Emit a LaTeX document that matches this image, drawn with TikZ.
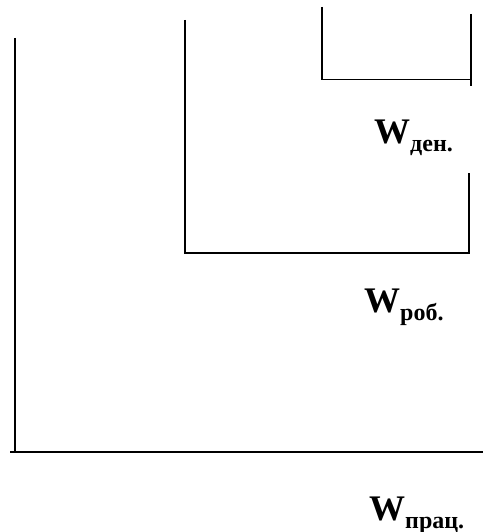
\documentclass[tikz,border=0pt]{standalone}
\usepackage{fontspec}
\setmainfont{Liberation Serif}
\begin{document}
\begin{tikzpicture}[x=1pt,y=-1pt,
  edge/.style={line width=1.7pt,line cap=butt,line join=miter},
  wlabel/.style={anchor=base west,inner sep=0pt,font=\bfseries}]
\useasboundingbox (0,0) rectangle (483,532);
% outer set: W_prac
\coordinate (a1) at (15,38);
\coordinate (a2) at (15,452);
\coordinate (a3) at (10,452);
\coordinate (a4) at (483,452);
\draw[edge] (a1) -- (a2);
\draw[edge] (a3) -- (a4);
% middle set: W_rob
\coordinate (b1) at (185,20);
\coordinate (b2) at (185,253);
\coordinate (b3) at (469,253);
\coordinate (b4) at (469,173);
\draw[edge] (b1) -- (b2) -- (b3) -- (b4);
% inner set: W_den
\coordinate (c1) at (322,7);
\coordinate (c2) at (322,79.5);
\coordinate (c3) at (471,79.5);
\coordinate (c4) at (471,14);
\coordinate (c5) at (471,86);
\draw[edge] (c1) -- (c2) -- (c3);
\draw[edge] (c4) -- (c5);
% labels
\newcommand{\wsub}[1]{{\fontsize{36}{36}\selectfont W}\raisebox{-8pt}{\fontsize{24}{24}\selectfont #1}}
\node[wlabel] (lden) at (374,143) {\wsub{ден.}};
\node[wlabel] (lrob) at (364,312) {\wsub{роб.}};
\node[wlabel] (lprac) at (369,520) {\wsub{прац.}};
\end{tikzpicture}
\end{document}
